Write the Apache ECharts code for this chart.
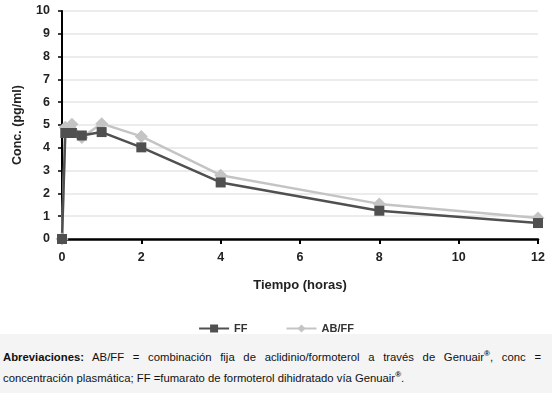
<!DOCTYPE html>
<html><head><meta charset="utf-8">
<script src="https://cdn.jsdelivr.net/npm/echarts@6/dist/echarts.min.js"></script>
<style>
html,body{margin:0;padding:0;background:#fff;}
#wrap{position:relative;width:552px;height:393px;overflow:hidden;}
#chart{position:absolute;left:0;top:0;width:552px;height:393px;}
#note{position:absolute;left:0;top:334px;width:552px;height:59px;background:#f4f4f4;font-family:"Liberation Sans",Arial,sans-serif;font-size:11.3px;color:#111;}
#note .l1{position:absolute;left:3px;top:15px;width:538px;text-align:justify;text-align-last:justify;white-space:nowrap;}
#note .l2{position:absolute;left:3px;top:36px;white-space:nowrap;}
#note b{font-weight:bold;}
#note sup{font-size:8px;font-weight:bold;}
</style></head>
<body><div id="wrap"><div id="chart"></div>
<div id="note"><div class="l1"><b>Abreviaciones:</b> AB/FF = combinación fija de aclidinio/formoterol a través de Genuair<sup>®</sup>, conc =</div>
<div class="l2">concentración plasmática; FF =fumarato de formoterol dihidratado vía Genuair<sup>®</sup>.</div></div>
</div>
<script>
const times = [0, 0.083, 0.25, 0.5, 1, 2, 4, 8, 12];
const ffValues = [0, 4.65, 4.65, 4.54, 4.69, 4.02, 2.48, 1.24, 0.7];
const abffValues = [0, 4.9, 5.03, 4.45, 5.06, 4.5, 2.8, 1.54, 0.92];
const seriesNames = ['FF', 'AB/FF'];
const xTicks = [0, 2, 4, 6, 8, 10, 12];
const yTicks = [0, 1, 2, 3, 4, 5, 6, 7, 8, 9, 10];

const pair = (t, v) => t.map((x, i) => [x, v[i]]);
const chart = echarts.init(document.getElementById('chart'));
chart.setOption({
  animation: false,
  backgroundColor: '#fff',
  textStyle: {fontFamily: '"Liberation Sans", Arial, sans-serif'},
  grid: {left: 62, right: 14, top: 11, bottom: 154, containLabel: false},
  legend: {
    data: seriesNames, top: 318, left: 'center', itemWidth: 30, itemHeight: 10, itemGap: 38,
    textStyle: {fontWeight: 'bold', fontSize: 11, color: '#333'}
  },
  xAxis: {
    type: 'value', min: xTicks[0], max: xTicks[xTicks.length - 1], interval: 2,
    name: 'Tiempo (horas)', nameLocation: 'middle', nameGap: 40,
    nameTextStyle: {fontWeight: 'bold', fontSize: 13, color: '#222'},
    axisLine: {lineStyle: {color: '#000', width: 2.5}},
    axisTick: {show: true, length: 5, lineStyle: {color: '#000', width: 2}},
    axisLabel: {fontWeight: 'bold', fontSize: 12.5, color: '#222', margin: 12},
    splitLine: {show: false}
  },
  yAxis: {
    type: 'value', min: yTicks[0], max: yTicks[yTicks.length - 1], interval: 1,
    name: 'Conc. (pg/ml)', nameLocation: 'middle', nameGap: 38, nameRotate: 90,
    nameTextStyle: {fontWeight: 'bold', fontSize: 12.5, color: '#222'},
    axisLine: {show: true, lineStyle: {color: '#000', width: 2}},
    axisTick: {show: true, length: 4, lineStyle: {color: '#000', width: 1.5}},
    axisLabel: {fontWeight: 'bold', fontSize: 12.5, color: '#222', margin: 12},
    splitLine: {show: true, lineStyle: {color: '#e6e6e6', width: 1.5}}
  },
  series: [
    {
      name: seriesNames[1], type: 'line', data: pair(times, abffValues),
      symbol: 'diamond', symbolSize: 13,
      lineStyle: {color: '#c4c4c4', width: 2.5},
      itemStyle: {color: '#c4c4c4'}
    },
    {
      name: seriesNames[0], type: 'line', data: pair(times, ffValues),
      symbol: 'rect', symbolSize: 10,
      lineStyle: {color: '#505050', width: 2.5},
      itemStyle: {color: '#505050'}
    }
  ]
});
</script></body></html>
